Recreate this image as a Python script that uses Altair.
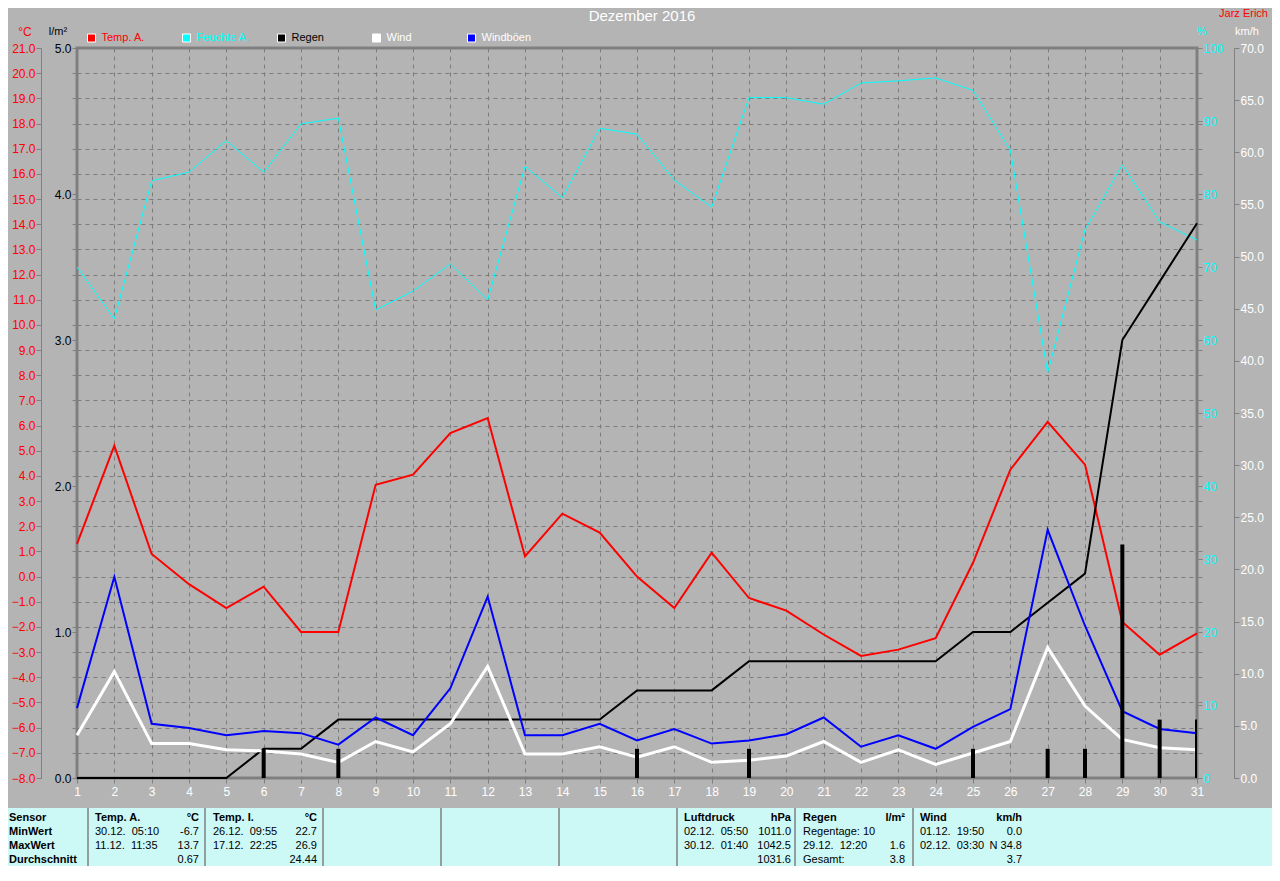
import altair as alt
import pandas as pd

# ---------------- data ----------------
days = list(range(1, 32))
temp_a = [1.3, 5.2, 0.9, -0.3, -1.25, -0.4, -2.2, -2.2, 3.65, 4.05, 5.7, 6.3, 0.8, 2.5, 1.75, 0.0,
          -1.25, 0.95, -0.85, -1.35, -2.3, -3.15, -2.9, -2.45, 0.55, 4.25, 6.15, 4.45, -1.8, -3.1, -2.25]
humidity = [70.0, 62.9, 81.8, 83.0, 87.3, 83.0, 89.6, 90.4, 64.1, 66.7, 70.4, 65.5, 83.8, 79.5, 89.0, 88.2,
            81.9, 78.2, 93.2, 93.2, 92.3, 95.2, 95.5, 95.9, 94.2, 86.0, 55.5, 75.1, 84.0, 76.2, 73.7]
rain_day = [0, 0, 0, 0, 0, 0.2, 0, 0.2, 0, 0, 0, 0, 0, 0, 0, 0.2,
            0, 0, 0.2, 0, 0, 0, 0, 0, 0.2, 0, 0.2, 0.2, 1.6, 0.4, 0.4]
rain_total = [0, 0, 0, 0, 0, 0.2, 0.2, 0.4, 0.4, 0.4, 0.4, 0.4, 0.4, 0.4, 0.4, 0.6,
              0.6, 0.6, 0.8, 0.8, 0.8, 0.8, 0.8, 0.8, 1.0, 1.0, 1.2, 1.4, 3.0, 3.4, 3.8]
wind = [4.1, 10.2, 3.3, 3.3, 2.7, 2.6, 2.3, 1.5, 3.5, 2.5, 5.2, 10.7, 2.3, 2.3, 3.0, 2.0,
        3.0, 1.5, 1.7, 2.1, 3.5, 1.5, 2.7, 1.3, 2.4, 3.5, 12.5, 6.9, 3.7, 2.9, 2.7]
gusts = [6.7, 19.3, 5.2, 4.8, 4.1, 4.5, 4.3, 3.2, 5.8, 4.1, 8.6, 17.4, 4.1, 4.1, 5.2, 3.6,
         4.7, 3.3, 3.6, 4.2, 5.8, 3.0, 4.1, 2.8, 4.9, 6.6, 23.8, 14.6, 6.4, 4.7, 4.3]

temp_ticks = list(range(-8, 22))
wind_ticks = list(range(0, 71, 5))

legend_names = ["Temp. A.", "Feuchte A.", "Regen", "Wind", "Windböen"]
legend_colors = ["#FF0000", "#00FFFF", "#000000", "#FFFFFF", "#0000FF"]
legend_text_colors = ["#FF0000", "#00FFFF", "#000000", "#FFFFFF", "#FFFFFF"]

title_text = "Dezember 2016"
author_text = "Jarz Erich"

sensor_labels = ["Sensor", "MinWert", "MaxWert", "Durchschnitt"]
table_blocks = [
    ("Temp. A.", "°C", [("30.12.\u00a0 05:10", "-6.7"), ("11.12.\u00a0 11:35", "13.7"), ("", "0.67")]),
    ("Temp. I.", "°C", [("26.12.\u00a0 09:55", "22.7"), ("17.12.\u00a0 22:25", "26.9"), ("", "24.44")]),
    ("Luftdruck", "hPa", [("02.12.\u00a0 05:50", "1011.0"), ("30.12.\u00a0 01:40", "1042.5"), ("", "1031.6")]),
    ("Regen", "l/m²", [("Regentage: 10", ""), ("29.12.\u00a0 12:20", "1.6"), ("Gesamt:", "3.8")]),
    ("Wind", "km/h", [("01.12.\u00a0 19:50", "0.0"), ("02.12.\u00a0 03:30", "N 34.8"), ("", "3.7")]),
]

df = pd.DataFrame({"day": days, "temp": temp_a, "hum": humidity, "rain": rain_day,
                   "rain_total": rain_total, "wind": wind, "gust": gusts})

# ---------------- layout / style ----------------
FONT = "Liberation Sans"
TFONT = "Liberation Sans"
BG = "#B4B4B4"
GRID = "#7C7C7C"
FRAME = "#808080"
X0, Y0 = 77, 48          # reference pixel of the plot origin
W, H = 1120, 730
PAD_L, PAD_T = X0 - 8, Y0 - 8
TOTAL_W, TOTAL_H = 1264, 858


def px(rx):
    return rx - X0


def py(ry):
    return ry - Y0


def txt(s, rx, ry, color="black", size=11, align="left", bold=False, font=FONT, baseline="middle"):
    return alt.Chart(alt.Data(values=[{}])).mark_text(
        text=s, align=align, baseline=baseline, color=color, fontSize=size,
        fontWeight="bold" if bold else "normal", font=font
    ).encode(x=alt.value(px(rx)), y=alt.value(py(ry)))


x_enc = alt.X("day:Q", scale=alt.Scale(domain=[1, 31], nice=False, zero=False, padding=0),
              axis=alt.Axis(values=days, format="d", title=None, grid=True, gridColor=GRID,
                            gridDash=[4, 4], domain=False, tickSize=5, tickColor=FRAME,
                            labelColor="white", labelPadding=3, labelFontSize=12, labelFont=FONT,
                            labelFlush=False))

base = alt.Chart(df)

grid_layer = base.mark_line(opacity=0).encode(
    x=x_enc,
    y=alt.Y("temp:Q", scale=alt.Scale(domain=[-8, 21], nice=False, zero=False),
            axis=alt.Axis(orient="left", values=temp_ticks, grid=True, gridColor=GRID,
                          gridDash=[4, 4], labels=False, ticks=False, domain=False, title=None)))

hum_vals = sorted(set([k * 100 / 29 for k in range(30)] + list(range(0, 101, 10))))
hum_layer = base.mark_line(color="#00FFFF", strokeWidth=1).encode(
    x=x_enc,
    y=alt.Y("hum:Q", scale=alt.Scale(domain=[0, 100], nice=False, zero=False),
            axis=alt.Axis(orient="right", offset=0, values=hum_vals, title=None,
                          labelExpr="abs(datum.value % 10) < 0.001 ? format(datum.value, 'd') : ''",
                          labelColor="#00FFFF", labelOverlap=False, tickSize=5, tickColor=FRAME,
                          domain=False, labelPadding=1, labelFont=FONT, labelFontSize=12,
                          labelFlush=False)))

temp_layer = base.mark_line(color="#FF0000", strokeWidth=2).encode(
    x=x_enc,
    y=alt.Y("temp:Q", scale=alt.Scale(domain=[-8, 21], nice=False, zero=False),
            axis=alt.Axis(orient="left", offset=36, values=temp_ticks, format=".1f", title=None,
                          labelColor="#FF0000", tickSize=5, tickColor=FRAME, domainColor=FRAME,
                          labelPadding=1, labelFont=FONT, labelFontSize=12, labelOverlap=False,
                          labelFlush=False)))

rain_vals = sorted(set([k * 5 / 29 for k in range(30)] + [0, 1, 2, 3, 4, 5]))
rain_line = base.mark_line(color="black", strokeWidth=2).encode(
    x=x_enc,
    y=alt.Y("rain_total:Q", scale=alt.Scale(domain=[0, 5], nice=False, zero=False),
            axis=alt.Axis(orient="left", offset=0, values=rain_vals, title=None,
                          labelExpr="abs(datum.value - round(datum.value)) < 0.001 ? format(datum.value, '.1f') : ''",
                          labelColor="black", tickSize=5, tickColor=FRAME, domain=False,
                          labelPadding=1, labelFont=FONT, labelFontSize=12, labelOverlap=False,
                          labelFlush=False)))

wind_layer = base.mark_line(color="white", strokeWidth=3).encode(
    x=x_enc,
    y=alt.Y("wind:Q", scale=alt.Scale(domain=[0, 70], nice=False, zero=False),
            axis=alt.Axis(orient="right", offset=37, values=wind_ticks, format=".1f", title=None,
                          labelColor="white", tickSize=5, tickColor=FRAME, domainColor=FRAME,
                          labelPadding=1, labelFont=FONT, labelFontSize=12, labelOverlap=False,
                          labelFlush=False)))

gust_layer = base.mark_line(color="#0000FF", strokeWidth=2).encode(
    x=x_enc,
    y=alt.Y("gust:Q", scale=alt.Scale(domain=[0, 70], nice=False, zero=False), axis=None))

rain_bars = base.transform_filter("datum.rain > 0").mark_bar(
    color="black", size=4, orient="vertical", clip=True).encode(
    x=x_enc,
    y=alt.Y("rain:Q", scale=alt.Scale(domain=[0, 5], nice=False, zero=True), axis=None))

layers = [grid_layer, hum_layer, temp_layer, rain_line, wind_layer, gust_layer, rain_bars]

# titles and unit labels
layers.append(txt(title_text, 642, 20.5, color="white", size=15, align="center", baseline="alphabetic"))
layers.append(txt(author_text, 1268, 16.5, color="#FF0000", size=11, align="right", baseline="alphabetic"))
layers.append(txt("°C", 25, 32, color="#FF0000", size=12, align="center"))
layers.append(txt("l/m²", 58, 32, color="black", size=11, align="center"))
layers.append(txt("%", 1202, 32, color="#00FFFF", size=11, align="center"))
layers.append(txt("km/h", 1247, 32, color="white", size=11, align="center"))

# legend
for i, (name, c, tc) in enumerate(zip(legend_names, legend_colors, legend_text_colors)):
    cx = 91.5 + 95 * i
    layers.append(alt.Chart(alt.Data(values=[{}])).mark_square(
        size=64, color=c, fill=c, opacity=1, stroke="white", strokeWidth=1
    ).encode(x=alt.value(px(cx)), y=alt.value(py(38))))
    layers.append(txt(name, cx + 10, 38, color=tc, size=11))

# bottom table
TB_TOP, TB_BOT = 808, 866
layers.append(alt.Chart(alt.Data(values=[{}])).mark_rect(color="#CCF8F6").encode(
    x=alt.value(px(8)), x2=alt.value(px(1272)), y=alt.value(py(TB_TOP)), y2=alt.value(py(TB_BOT))))
for sx in [88, 205, 323, 441, 559, 677, 795, 913]:
    layers.append(alt.Chart(alt.Data(values=[{}])).mark_rule(color="#808080", strokeWidth=1.5).encode(
        x=alt.value(px(sx)), y=alt.value(py(TB_TOP)), y2=alt.value(py(TB_BOT))))
row_y = [818, 832, 846, 860]
for r, s in enumerate(sensor_labels):
    layers.append(txt(s, 9, row_y[r], size=11, bold=True, font=TFONT))
block_left = [95, 213, 684, 803, 920]
block_right = [199, 317, 791, 905, 1022]
for (head, unit, rows), lx, rx in zip(table_blocks, block_left, block_right):
    layers.append(txt(head, lx, row_y[0], size=11, bold=True, font=TFONT))
    layers.append(txt(unit, rx, row_y[0], size=11, bold=True, align="right", font=TFONT))
    for r, (a, b) in enumerate(rows):
        if a:
            layers.append(txt(a, lx, row_y[r + 1], size=11, font=TFONT))
        if b:
            layers.append(txt(b, rx, row_y[r + 1], size=11, align="right", font=TFONT))

chart = alt.layer(*layers).resolve_scale(y="independent").properties(
    width=W, height=H,
    autosize=alt.AutoSizeParams(type="none"),
    padding={"left": PAD_L, "top": PAD_T, "right": TOTAL_W - PAD_L - W, "bottom": TOTAL_H - PAD_T - H},
    background=BG,
).configure_view(stroke=FRAME, strokeWidth=3, fill=BG)

chart.save("out.html", embed_options={"renderer": "svg", "actions": False})
